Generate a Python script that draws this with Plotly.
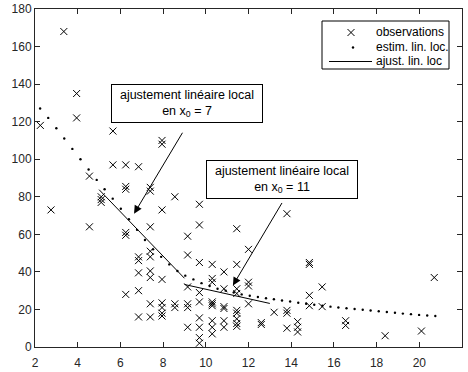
import plotly.graph_objects as go

# Observations, grouped by x value
obs_columns = {
    2.25: [118],
    2.75: [73],
    3.35: [168],
    3.95: [135, 122],
    4.55: [91, 64],
    5.10: [80, 78.5, 77],
    5.65: [115, 97],
    6.25: [97, 85.5, 84, 61, 59.5, 28],
    6.85: [96, 48, 46, 39.5, 30, 16],
    7.40: [85, 83, 64, 51, 48, 40.5, 37, 23, 16],
    7.95: [110, 108, 73, 36, 23.5, 21, 18, 16.5],
    8.55: [80, 23, 21],
    9.15: [59, 49, 32, 23, 21, 10.5],
    9.70: [76, 65, 45, 29, 24, 15.5, 10.5, 5, 2],
    10.30: [88.5, 44, 36.5, 34.5, 24, 23, 22, 14, 10.5, 7],
    10.85: [40, 31, 21.5, 20.5, 14, 10.5],
    11.45: [63, 44, 31, 28.5, 19.5, 18, 15, 12.5, 11],
    12.00: [52, 34.5, 32.5, 23],
    12.60: [13, 12],
    13.20: [18.5],
    13.80: [71, 19.5, 18, 10],
    14.30: [13.5, 10.5, 8],
    14.85: [45, 44, 27.5, 22],
    15.45: [32, 21.5],
    16.55: [14, 11.5],
    18.40: [6],
    20.10: [8.5],
    20.70: [37],
}
obs_x = [x for x, ys in obs_columns.items() for _ in ys]
obs_y = [y for ys in obs_columns.values() for y in ys]

# Local linear estimate evaluated on a grid
est_x = [2.24, 2.62, 3.00, 3.37, 3.75, 4.13, 4.51, 4.89, 5.26, 5.64,
         6.02, 6.40, 6.78, 7.15, 7.53, 7.91, 8.29, 8.67, 9.04, 9.42,
         9.80, 10.18, 10.55, 10.93, 11.31, 11.68, 12.06, 12.44, 12.82, 13.19,
         13.57, 13.95, 14.33, 14.70, 15.08, 15.46, 15.84, 16.21, 16.59, 16.97,
         17.35, 17.72, 18.10, 18.48, 18.86, 19.23, 19.61, 19.99, 20.37, 20.75]
est_y = [127, 122, 116.5, 111, 105.5, 100, 94.5, 89, 84, 79,
         73.6, 68, 62.4, 57, 52, 48, 44, 40.5, 38, 36,
         34, 32.5, 31, 30, 29, 28, 27.3, 26.6, 26, 25.4,
         24.8, 24.2, 23.6, 23, 22.5, 22, 21.5, 21, 20.6, 20.2,
         19.8, 19.4, 19, 18.6, 18.2, 17.8, 17.5, 17.1, 16.8, 16.5]

# Local linear fits around x0 = 7 and x0 = 11
fit7_x, fit7_y = [5, 9], [83.8, 36.6]
fit11_x, fit11_y = [9, 13], [33.3, 23.2]

x_ticks = [2, 4, 6, 8, 10, 12, 14, 16, 18, 20, 22]
y_ticks = [0, 20, 40, 60, 80, 100, 120, 140, 160, 180]
legend_labels = ["observations", "estim. lin. loc.", "ajust. lin. loc"]

ink = "#000000"
axis_col = "#262626"
font = "Liberation Sans, Arial, sans-serif"

W, H = 468, 372
M = dict(l=35, r=6, t=9, b=25, autoexpand=False)
plot_w = W - M["l"] - M["r"]
plot_h = H - M["t"] - M["b"]


def px(xp):
    """Pixel column -> paper x."""
    return (xp - M["l"]) / plot_w


def py(yp):
    """Pixel row -> paper y."""
    return (H - M["b"] - yp) / plot_h


fig = go.Figure()
fig.add_trace(go.Scatter(
    x=obs_x, y=obs_y, mode="markers", name=legend_labels[0], showlegend=False,
    marker=dict(symbol="x-thin", size=7, line=dict(width=1, color=ink), color=ink),
))
fig.add_trace(go.Scatter(
    x=est_x, y=est_y, mode="markers", name=legend_labels[1], showlegend=False,
    marker=dict(symbol="circle", size=2.4, color=ink),
))
for fx, fy in [(fit7_x, fit7_y), (fit11_x, fit11_y)]:
    fig.add_trace(go.Scatter(
        x=fx, y=fy, mode="lines", name=legend_labels[2], showlegend=False,
        line=dict(color=ink, width=1),
    ))

# Text boxes and arrows pointing at the local fits
boxes = [
    dict(x=9.11, y=129.5, text="ajustement linéaire local<br>en x<sub>0</sub> = 7"),
    dict(x=13.58, y=89.4, text="ajustement linéaire local<br>en x<sub>0</sub> = 11"),
]
for b in boxes:
    fig.add_annotation(
        x=b["x"], y=b["y"], xref="x", yref="y", text=b["text"], showarrow=False,
        font=dict(family=font, size=12.5, color=ink), bgcolor="white",
        bordercolor=ink, borderwidth=1, borderpad=1, width=148, height=35,
        align="center",
    )
arrows = [
    dict(tail=(8.95, 114.9), tip=(6.64, 71)),
    dict(tail=(13.61, 77.5), tip=(11.27, 32.8)),
]
for a in arrows:
    fig.add_annotation(
        x=a["tip"][0], y=a["tip"][1], ax=a["tail"][0], ay=a["tail"][1],
        xref="x", yref="y", axref="x", ayref="y", text="",
        showarrow=True, arrowhead=2, arrowsize=1.6, arrowwidth=1, arrowcolor=ink,
        standoff=0, startstandoff=0,
    )

# Legend box drawn by hand: frame, glyphs and labels
shapes = [dict(type="rect", xref="paper", yref="paper",
               x0=px(322), x1=px(449), y0=py(69), y1=py(21),
               line=dict(color=ink, width=1), fillcolor="white", layer="above")]
rows = [32.5, 47.5, 61.5]
gx = 351
# cross glyph
for (a, b), (c, d) in [((-3.5, -3.5), (3.5, 3.5)), ((-3.5, 3.5), (3.5, -3.5))]:
    shapes.append(dict(type="line", xref="paper", yref="paper",
                       x0=px(gx + a), y0=py(rows[0] + b), x1=px(gx + c), y1=py(rows[0] + d),
                       line=dict(color=ink, width=1), layer="above"))
# dot glyph
shapes.append(dict(type="circle", xref="paper", yref="paper",
                   x0=px(gx + 0.8), x1=px(gx + 3.2), y0=py(rows[1] + 1.2), y1=py(rows[1] - 1.2),
                   fillcolor=ink, line=dict(width=0), layer="above"))
# line glyph
shapes.append(dict(type="line", xref="paper", yref="paper",
                   x0=px(329), x1=px(372), y0=py(rows[2]), y1=py(rows[2]),
                   line=dict(color=ink, width=1), layer="above"))
for label, r in zip(legend_labels, rows):
    fig.add_annotation(
        x=px(374), y=py(r), xref="paper", yref="paper", text=label,
        showarrow=False, xanchor="left", yanchor="middle",
        font=dict(family=font, size=12, color=ink),
    )

fig.update_layout(
    width=W, height=H,
    margin=M,
    paper_bgcolor="white", plot_bgcolor="white",
    font=dict(family=font, size=12, color=axis_col),
    showlegend=False,
    shapes=shapes,
)
fig.update_xaxes(
    range=[2, 22], tickvals=x_ticks, ticks="inside", ticklen=5, tickcolor=axis_col,
    showline=True, linecolor=axis_col, linewidth=1, mirror="ticks",
    showgrid=False, zeroline=False, tickfont=dict(size=12, color=axis_col),
    ticklabelstandoff=5, automargin=False,
)
fig.update_yaxes(
    range=[0, 180], tickvals=y_ticks, ticks="inside", ticklen=5, tickcolor=axis_col,
    showline=True, linecolor=axis_col, linewidth=1, mirror="ticks",
    showgrid=False, zeroline=False, tickfont=dict(size=12, color=axis_col),
    automargin=False,
)

fig.write_html("out.html")
